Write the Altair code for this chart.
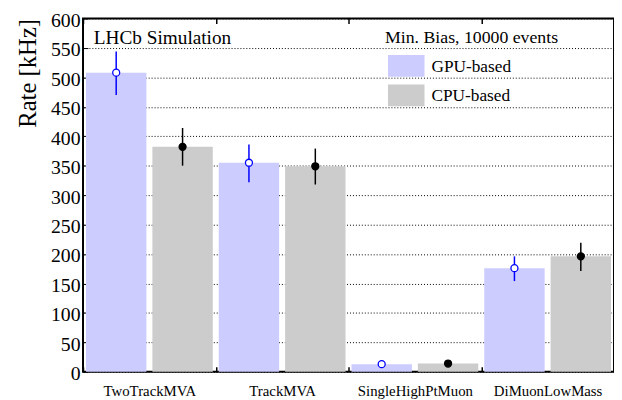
import altair as alt
import pandas as pd

categories = ["TwoTrackMVA", "TrackMVA", "SingleHighPtMuon", "DiMuonLowMass"]
series = ["GPU-based", "CPU-based"]
gpu_rate = [508, 355, 13, 176]
gpu_lo = [470, 322, 10, 154]
gpu_hi = [544, 386, 16, 196]
cpu_rate = [382, 349, 14, 196]
cpu_lo = [350, 318, 11, 171]
cpu_hi = [414, 379, 17, 219]
y_ticks = list(range(0, 601, 50))
bar_colors = ["#ccccff", "#cccccc"]
marker_stroke = ["#0000ff", "#000000"]
marker_fill = ["#ffffff", "#000000"]
experiment_label = "LHCb Simulation"
sample_label = "Min. Bias, 10000 events"

rows = []
for i, c in enumerate(categories):
    rows.append({"category": c, "series": series[0], "rate": gpu_rate[i], "lo": gpu_lo[i], "hi": gpu_hi[i]})
    rows.append({"category": c, "series": series[1], "rate": cpu_rate[i], "lo": cpu_lo[i], "hi": cpu_hi[i]})
df = pd.DataFrame(rows)

FONT = "Liberation Serif"

x_bottom = alt.X(
    "category:N", sort=categories,
    scale=alt.Scale(paddingInner=0, paddingOuter=0),
    axis=alt.Axis(orient="bottom", title=None, labelAngle=0, labelFontSize=15, labelFont=FONT,
                  labelColor="black", labelPadding=12, offset=-5, tickSize=5, tickBand="extent",
                  tickColor="black", tickWidth=1.5, domain=False, grid=False),
)
x_top = alt.X(
    "category:N", sort=categories,
    axis=alt.Axis(orient="top", title=None, labels=False, offset=-5, tickSize=5, tickBand="extent",
                  tickColor="black", tickWidth=1.5, domain=False, grid=False),
)
x_off = alt.XOffset("series:N", sort=series, scale=alt.Scale(paddingInner=0.09, paddingOuter=0.045))

y_scale = alt.Scale(domain=[0, 600], nice=False)
y_axis = alt.Axis(orient="left", values=y_ticks, tickCount=13, title="Rate [kHz]", titleFontSize=25,
                  titleFont=FONT, titleFontWeight="normal", titleColor="black", titleAnchor="end",
                  titlePadding=10, labelFontSize=20, labelFont=FONT, labelColor="black", labelPadding=3,
                  labelOffset=2, labelOverlap=False, offset=-5, ticks=True, tickSize=5, tickColor="black",
                  tickWidth=1, domain=False, grid=True, gridDash=[1, 2], gridColor="black",
                  gridOpacity=1, gridWidth=1)

bars = alt.Chart(df).mark_bar().encode(
    x=x_bottom, xOffset=x_off,
    y=alt.Y("rate:Q", scale=y_scale, axis=y_axis),
    color=alt.Color("series:N", scale=alt.Scale(domain=series, range=bar_colors), legend=None),
)

rules = alt.Chart(df).mark_rule(strokeWidth=1.5).encode(
    x=x_top, xOffset=x_off,
    y=alt.Y("lo:Q", scale=y_scale, axis=y_axis), y2="hi:Q",
    stroke=alt.Stroke("series:N", scale=alt.Scale(domain=series, range=marker_stroke), legend=None),
)

points = alt.Chart(df).mark_point(shape="circle", filled=True, size=50, strokeWidth=1.3, opacity=1).encode(
    x=alt.X("category:N", sort=categories, axis=None), xOffset=x_off,
    y=alt.Y("rate:Q", scale=y_scale, axis=y_axis),
    fill=alt.Fill("series:N", scale=alt.Scale(domain=series, range=marker_fill), legend=None),
    stroke=alt.Stroke("series:N", scale=alt.Scale(domain=series, range=marker_stroke), legend=None),
)

ann_df = pd.DataFrame({"t": [experiment_label]})
lhcb = alt.Chart(ann_df).mark_text(align="left", baseline="alphabetic", fontSize=19.5, font=FONT,
                                    color="black").encode(
    x=alt.value(11), y=alt.value(26), text="t:N")

leg_title_df = pd.DataFrame({"t": [sample_label]})
leg_title = alt.Chart(leg_title_df).mark_text(align="left", baseline="alphabetic", fontSize=18, font=FONT,
                                              color="black").encode(
    x=alt.value(306), y=alt.value(25), text="t:N")

leg_gpu_box = alt.Chart(pd.DataFrame({"s": [series[0]]})).mark_rect(color=bar_colors[0]).encode(
    x=alt.value(309), x2=alt.value(346), y=alt.value(37), y2=alt.value(59))
leg_cpu_box = alt.Chart(pd.DataFrame({"s": [series[1]]})).mark_rect(color=bar_colors[1]).encode(
    x=alt.value(309), x2=alt.value(346), y=alt.value(67), y2=alt.value(89))
leg_gpu_txt = alt.Chart(pd.DataFrame({"s": [series[0]]})).mark_text(
    align="left", baseline="alphabetic", fontSize=17.5, font=FONT, color="black").encode(
    x=alt.value(353), y=alt.value(54), text="s:N")
leg_cpu_txt = alt.Chart(pd.DataFrame({"s": [series[1]]})).mark_text(
    align="left", baseline="alphabetic", fontSize=17.5, font=FONT, color="black").encode(
    x=alt.value(353), y=alt.value(84), text="s:N")

chart = alt.layer(
    bars, rules, points, lhcb, leg_title, leg_gpu_box, leg_cpu_box, leg_gpu_txt, leg_cpu_txt
).resolve_axis(x="independent").properties(
    width=538, height=358,
    autosize=alt.AutoSizeParams(type="none"),
    padding={"left": 76, "top": 8, "right": 0, "bottom": 26},
    background="white",
).configure(font=FONT).configure_view(stroke="black", strokeWidth=2)

chart.save("out.html", embed_options={"renderer": "svg", "actions": False})
